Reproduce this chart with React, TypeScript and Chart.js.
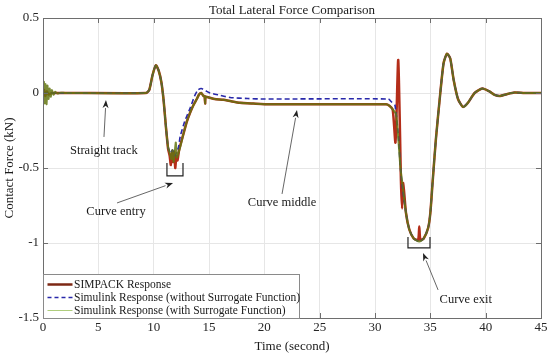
import React, { useEffect, useRef } from 'react';
import { Chart, registerables } from 'chart.js';
Chart.register(...registerables);

// ---------- data ----------
const xTickValues = [0, 5, 10, 15, 20, 25, 30, 35, 40, 45];
const yTickValues = [-1.5, -1, -0.5, 0, 0.5];

const simpackT = [0, 0.1, 0.2, 0.35, 0.5, 0.8, 9.3, 9.6, 9.9, 10.2, 10.45, 10.7, 10.9, 11.1, 11.3, 11.45, 11.55, 11.65, 11.75, 11.85, 11.95, 12.05, 12.15, 12.3, 12.7, 13.0, 13.3, 13.6, 13.9, 14.1, 14.3, 14.5, 14.6, 14.65, 14.7, 15.0, 15.5, 16.3, 17.0, 17.8, 19, 20.5, 31.0, 31.3, 31.6, 31.85, 32.1, 32.35, 32.45, 32.55, 32.8, 33.1, 33.5, 33.9, 34.0, 34.1, 34.4, 34.8, 35.0, 35.2, 35.5, 35.9, 36.2, 36.5, 36.8, 37.1, 37.5, 37.95, 38.4, 39.0, 39.7, 40.3, 40.8, 41.3, 41.9, 42.6, 43.5, 45];
const simpackV = [0, 0.02, -0.02, 0.01, -0.01, 0, 0, 0.02, 0.12, 0.185, 0.15, 0.07, -0.05, -0.22, -0.37, -0.42, -0.48, -0.4, -0.46, -0.39, -0.5, -0.42, -0.45, -0.38, -0.27, -0.19, -0.13, -0.08, -0.04, -0.01, 0.0, -0.02, -0.02, -0.07, -0.025, -0.03, -0.04, -0.045, -0.055, -0.065, -0.07, -0.075, -0.075, -0.085, -0.11, -0.33, 0.22, -0.6, -0.77, -0.6, -0.8, -0.91, -0.97, -0.98, -0.89, -0.98, -0.97, -0.9, -0.8, -0.6, -0.31, 0.0, 0.2, 0.262, 0.23, 0.09, -0.04, -0.093, -0.065, 0.0, 0.03, 0.012, -0.012, -0.02, -0.008, 0.003, 0, 0];

const withoutT = [0, 9.3, 9.6, 9.9, 10.2, 10.45, 10.7, 10.9, 11.1, 11.3, 11.5, 11.7, 11.9, 12.1, 12.25, 12.4, 12.8, 13.3, 13.7, 14.0, 14.3, 14.7, 15.1, 16.0, 16.9, 18.5, 20, 31.2, 31.5, 31.8, 32.1, 32.3, 32.5, 32.8, 33.1, 33.5, 34.0, 34.4, 34.8, 35.0, 35.2, 35.5, 35.9, 36.2, 36.5, 36.8, 37.1, 37.5, 37.95, 38.4, 39.0, 39.7, 40.3, 40.8, 41.3, 41.9, 42.6, 43.5, 45];
const withoutV = [0, 0, 0.02, 0.12, 0.185, 0.15, 0.07, -0.05, -0.22, -0.36, -0.4, -0.38, -0.42, -0.39, -0.36, -0.29, -0.19, -0.1, -0.02, 0.02, 0.03, 0.015, 0.0, -0.015, -0.03, -0.037, -0.04, -0.04, -0.06, -0.08, -0.28, -0.5, -0.64, -0.8, -0.91, -0.97, -0.99, -0.97, -0.9, -0.8, -0.6, -0.31, 0.0, 0.2, 0.262, 0.23, 0.09, -0.04, -0.093, -0.065, 0.0, 0.03, 0.012, -0.012, -0.02, -0.008, 0.003, 0, 0];

const withT = [0, 0.08, 0.16, 0.24, 0.32, 0.4, 0.5, 0.6, 0.7, 0.8, 0.95, 1.1, 1.3, 1.6, 2, 9.3, 9.6, 9.9, 10.2, 10.45, 10.7, 10.9, 11.1, 11.3, 11.45, 11.6, 11.7, 11.8, 11.9, 12.0, 12.1, 12.2, 12.4, 12.7, 13.0, 13.3, 13.6, 13.9, 14.1, 14.3, 14.5, 14.6, 14.65, 14.7, 15.0, 15.5, 16.3, 17.0, 17.8, 19, 20.5, 31.0, 31.3, 31.6, 31.9, 32.1, 32.3, 32.5, 32.8, 33.1, 33.5, 34.0, 34.4, 34.8, 35.0, 35.2, 35.5, 35.9, 36.2, 36.5, 36.8, 37.1, 37.5, 37.95, 38.4, 39.0, 39.7, 40.3, 40.8, 41.3, 41.9, 42.6, 43.5, 45];
const withV = [0, 0.075, -0.07, 0.06, -0.075, 0.05, -0.04, 0.03, -0.025, 0.02, -0.012, 0.008, -0.004, 0.002, 0, 0, 0.02, 0.12, 0.185, 0.15, 0.07, -0.05, -0.22, -0.36, -0.4, -0.44, -0.38, -0.46, -0.4, -0.33, -0.43, -0.41, -0.36, -0.27, -0.19, -0.13, -0.08, -0.04, -0.01, 0.0, -0.02, -0.02, -0.07, -0.025, -0.03, -0.04, -0.045, -0.055, -0.065, -0.07, -0.075, -0.075, -0.085, -0.11, -0.14, -0.3, -0.5, -0.62, -0.8, -0.91, -0.97, -0.99, -0.97, -0.9, -0.8, -0.6, -0.31, 0.0, 0.2, 0.262, 0.23, 0.09, -0.04, -0.093, -0.065, 0.0, 0.03, 0.012, -0.012, -0.02, -0.008, 0.003, 0, 0];

const seriesLabels = [
  'SIMPACK Response',
  'Simulink Response (without Surrogate Function)',
  'Simulink Response (with Surrogate Function)',
];

// annotations (data units)
const noteTexts = [
  { text: 'Straight track', t: 5.5, v: -0.387 },
  { text: 'Curve entry', t: 6.6, v: -0.793 },
  { text: 'Curve middle', t: 21.6, v: -0.733 },
  { text: 'Curve exit', t: 38.2, v: -1.38 },
];
const noteArrows = [
  { t0: 5.51, v0: -0.293, t1: 5.69, v1: -0.047 },
  { t0: 6.69, v0: -0.733, t1: 11.75, v1: -0.6 },
  { t0: 21.6, v0: -0.673, t1: 22.95, v1: -0.113 },
  { t0: 35.7, v0: -1.313, t1: 34.34, v1: -1.067 },
];
const noteBrackets = [
  { t0: 11.2, t1: 12.65, vTop: -0.467, vBot: -0.553 },
  { t0: 32.98, t1: 34.97, vTop: -0.96, vBot: -1.033 },
];

const FONT = '"Liberation Serif", "Times New Roman", serif';

const pts = (t: number[], v: number[]) => t.map((x, i) => ({ x, y: v[i] }));

const framePlugin = {
  id: 'frame',
  afterDatasetsDraw(chart: any) {
    const { ctx, chartArea: a, scales } = chart;
    ctx.save();
    ctx.strokeStyle = '#6e6e6e';
    ctx.lineWidth = 1;
    ctx.strokeRect(Math.round(a.left) + 0.5, Math.round(a.top) + 0.5, Math.round(a.right - a.left), Math.round(a.bottom - a.top));
    ctx.beginPath();
    const L = 5;
    xTickValues.forEach((t) => {
      const px = Math.round(scales.x.getPixelForValue(t)) + 0.5;
      ctx.moveTo(px, a.bottom); ctx.lineTo(px, a.bottom - L);
      ctx.moveTo(px, a.top); ctx.lineTo(px, a.top + L);
    });
    yTickValues.forEach((v) => {
      const py = Math.round(scales.y.getPixelForValue(v)) + 0.5;
      ctx.moveTo(a.left, py); ctx.lineTo(a.left + L, py);
      ctx.moveTo(a.right, py); ctx.lineTo(a.right - L, py);
    });
    ctx.stroke();
    ctx.restore();
  },
  afterDraw(chart: any) {
    const { ctx, chartArea: a, scales } = chart;
    const X = (t: number) => scales.x.getPixelForValue(t);
    const Y = (v: number) => scales.y.getPixelForValue(v);
    ctx.save();
    // annotation texts
    ctx.font = `12.5px ${FONT}`;
    ctx.fillStyle = '#1a1a1a';
    ctx.textAlign = 'center';
    ctx.textBaseline = 'middle';
    noteTexts.forEach((n) => ctx.fillText(n.text, X(n.t), Y(n.v)));
    // arrows
    noteArrows.forEach((ar) => {
      const x0 = X(ar.t0), y0 = Y(ar.v0), x1 = X(ar.t1), y1 = Y(ar.v1);
      const ang = Math.atan2(y1 - y0, x1 - x0);
      const hl = 8, hw = 3;
      ctx.strokeStyle = '#555';
      ctx.lineWidth = 0.9;
      ctx.beginPath();
      ctx.moveTo(x0, y0);
      ctx.lineTo(x1 - hl * Math.cos(ang), y1 - hl * Math.sin(ang));
      ctx.stroke();
      ctx.fillStyle = '#222';
      ctx.beginPath();
      ctx.moveTo(x1, y1);
      ctx.lineTo(x1 - hl * Math.cos(ang) + hw * Math.sin(ang), y1 - hl * Math.sin(ang) - hw * Math.cos(ang));
      ctx.lineTo(x1 - hl * 0.7 * Math.cos(ang), y1 - hl * 0.7 * Math.sin(ang));
      ctx.lineTo(x1 - hl * Math.cos(ang) - hw * Math.sin(ang), y1 - hl * Math.sin(ang) + hw * Math.cos(ang));
      ctx.closePath();
      ctx.fill();
    });
    // brackets
    ctx.strokeStyle = '#222';
    ctx.lineWidth = 1.2;
    noteBrackets.forEach((b) => {
      ctx.beginPath();
      ctx.moveTo(X(b.t0), Y(b.vTop));
      ctx.lineTo(X(b.t0), Y(b.vBot));
      ctx.lineTo(X(b.t1), Y(b.vBot));
      ctx.lineTo(X(b.t1), Y(b.vTop));
      ctx.stroke();
    });
    // legend
    ctx.font = `11.5px ${FONT}`;
    const textW = Math.max(...seriesLabels.map((s) => ctx.measureText(s).width));
    const bx = Math.round(a.left) + 0.5;
    const bw = Math.round(30 + textW);
    const bh = 44;
    const by = Math.round(a.bottom) - bh + 0.5;
    ctx.fillStyle = '#ffffff';
    ctx.fillRect(bx, by, bw, bh);
    ctx.strokeStyle = '#8a8a8a';
    ctx.lineWidth = 1;
    ctx.strokeRect(bx, by, bw, bh);
    const rows = [by + 10, by + 23, by + 36];
    const legendStyles = [
      { color: 'rgb(125,40,20)', w: 2.5, dash: [] as number[] },
      { color: 'rgb(40,40,170)', w: 1.5, dash: [4, 3] },
      { color: 'rgb(175,205,125)', w: 1, dash: [] as number[] },
    ];
    rows.forEach((ry, i) => {
      const st = legendStyles[i];
      ctx.strokeStyle = st.color;
      ctx.lineWidth = st.w;
      ctx.setLineDash(st.dash);
      ctx.beginPath();
      ctx.moveTo(bx + 4, ry);
      ctx.lineTo(bx + 29, ry);
      ctx.stroke();
      ctx.setLineDash([]);
      ctx.fillStyle = '#1a1a1a';
      ctx.textAlign = 'left';
      ctx.textBaseline = 'middle';
      ctx.fillText(seriesLabels[i], bx + 30.5, ry + 0.5);
    });
    ctx.restore();
  },
};

export default function App() {
  const ref = useRef<HTMLCanvasElement | null>(null);
  useEffect(() => {
    document.body.style.margin = '0';
    const canvas = ref.current;
    if (!canvas) return;
    const chart = new Chart(canvas, {
      type: 'line',
      data: {
        datasets: [
          {
            label: seriesLabels[2],
            data: pts(withT, withV),
            borderColor: 'rgba(100,118,18,0.85)',
            borderWidth: 2,
            pointRadius: 0,
            tension: 0.2,
            order: 0,
          },
          {
            label: seriesLabels[1],
            data: pts(withoutT, withoutV),
            borderColor: 'rgb(40,40,170)',
            borderWidth: 1.6,
            borderDash: [5, 3],
            pointRadius: 0,
            tension: 0.2,
            order: 1,
          },
          {
            label: seriesLabels[0],
            data: pts(simpackT, simpackV),
            borderColor: 'rgb(180,45,25)',
            borderWidth: 2.5,
            pointRadius: 0,
            tension: 0.2,
            order: 2,
          },
        ],
      },
      options: {
        responsive: false,
        animation: false,
        layout: { padding: { top: 0, right: 9, left: 0, bottom: 0 } },
        plugins: {
          legend: { display: false },
          tooltip: { enabled: false },
          title: {
            display: true,
            text: 'Total Lateral Force Comparison',
            fullSize: false,
            color: '#1a1a1a',
            font: { family: FONT, size: 13, weight: 'normal', lineHeight: 1.2 },
            padding: { top: 2.4, bottom: 0 },
          },
        },
        scales: {
          x: {
            type: 'linear',
            min: 0,
            max: 45,
            afterFit: (s: any) => { s.height = 39; },
            afterBuildTicks: (s: any) => { s.ticks = xTickValues.map((v) => ({ value: v })); },
            grid: { color: '#e6e6e6', drawTicks: false },
            border: { display: false },
            ticks: { color: '#262626', padding: 2, font: { family: FONT, size: 13 }, maxRotation: 0, callback: (v: any) => String(v) },
            title: {
              display: true,
              text: 'Time (second)',
              color: '#1a1a1a',
              font: { family: FONT, size: 13 },
              padding: { top: 0, bottom: 3 },
            },
          },
          y: {
            type: 'linear',
            min: -1.5,
            max: 0.5,
            afterFit: (s: any) => { s.width = 43; },
            afterBuildTicks: (s: any) => { s.ticks = yTickValues.map((v) => ({ value: v })); },
            grid: { color: '#e6e6e6', drawTicks: false },
            border: { display: false },
            ticks: { color: '#262626', padding: 4, font: { family: FONT, size: 13 }, callback: (v: any) => String(v) },
            title: {
              display: true,
              text: 'Contact Force (kN)',
              color: '#1a1a1a',
              font: { family: FONT, size: 13 },
              padding: { top: 2, bottom: 0 },
            },
          },
        },
      },
      plugins: [framePlugin],
    } as any);
    return () => chart.destroy();
  }, []);
  return <canvas ref={ref} width={550} height={357} style={{ display: 'block', width: 550, height: 357 }} />;
}
